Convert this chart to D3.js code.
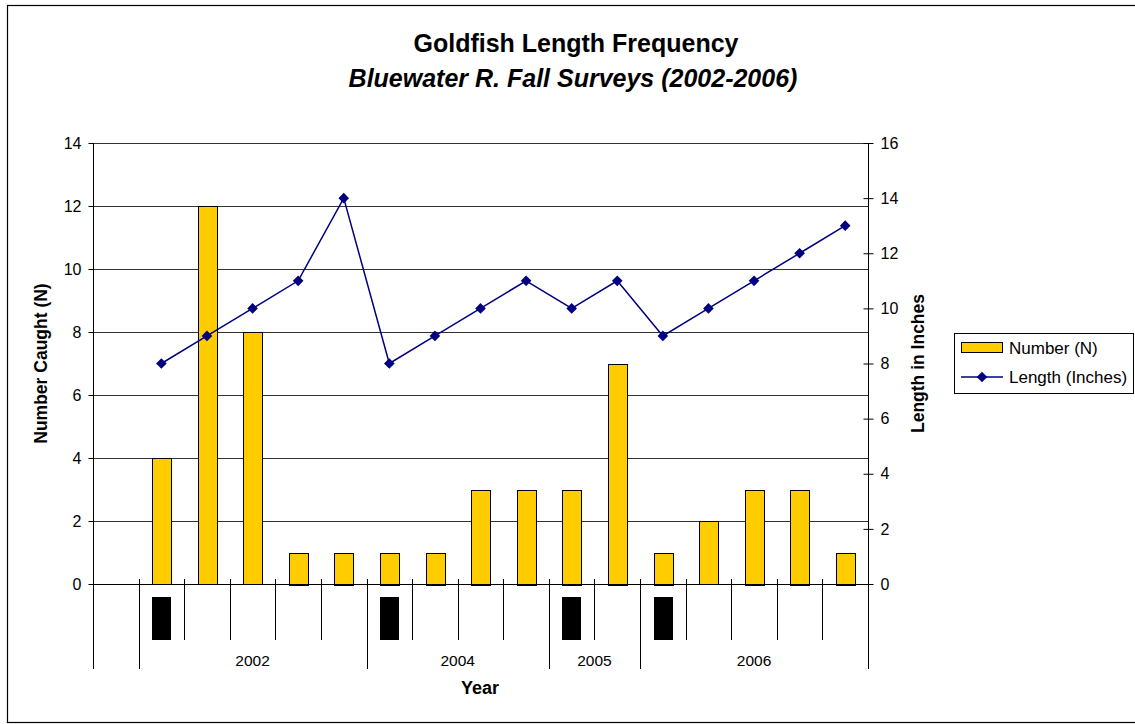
<!DOCTYPE html>
<html><head><meta charset="utf-8">
<script src="https://cdn.jsdelivr.net/npm/d3@7"></script>
<style>body{margin:0;background:#fff}svg{display:block;font-family:"Liberation Sans",Arial,sans-serif}</style>
</head><body>
<svg id="c" width="1135" height="724"></svg>
<script>
// ---- data ----
const categories = ["c0","c1","c2","c3","c4","c5","c6","c7","c8","c9","c10","c11","c12","c13","c14","c15","c16"];
const numberCaught = [null,4,12,8,1,1,1,1,3,3,3,7,1,2,3,3,1];
const lengthInches = [null,8,9,10,11,14,8,9,10,11,10,11,9,10,11,12,13];
const monthMarker = [0,1,0,0,0,0,1,0,0,0,1,0,1,0,0,0,0];
const groupLabels = ["","2002","2004","2005","2006"];
const groupSizes = [1,5,4,2,5];
const leftTicks = [0,2,4,6,8,10,12,14];
const rightTicks = [0,2,4,6,8,10,12,14,16];

const svg = d3.select("#c");
const L=93, R=868, T=143, B=584;

svg.append("rect").attr("x",7.5).attr("y",5.5).attr("width",1140).attr("height",717)
  .attr("fill","#fff").attr("stroke","#000").attr("stroke-width",1.2);

const x = d3.scaleBand().domain(categories).range([L,R]).paddingInner(0.59).paddingOuter(0.295);
const xb = d3.scaleBand().domain(categories).range([L,R]);
const yL = d3.scaleLinear().domain([0,14]).range([B,T]);
const yR = d3.scaleLinear().domain([0,16]).range([B,T]);

// gridlines
svg.append("g").selectAll("line").data(leftTicks.filter(d=>d>0)).join("line")
  .attr("x1",L).attr("x2",R).attr("y1",d=>Math.round(yL(d))+0.5).attr("y2",d=>Math.round(yL(d))+0.5)
  .attr("stroke","#333").attr("stroke-width",1);

// bars
svg.append("g").selectAll("rect").data(categories.map((c,i)=>({c,v:numberCaught[i]})).filter(d=>d.v!=null)).join("rect")
  .attr("x",d=>Math.round(x(d.c))+0.5).attr("width",Math.round(x.bandwidth()))
  .attr("y",d=>Math.round(yL(d.v))+0.5).attr("height",d=>Math.round(B-yL(d.v)))
  .attr("fill","#FFCC00").attr("stroke","#000").attr("stroke-width",1);

// line
const pts = categories.map((c,i)=>({c,v:lengthInches[i]})).filter(d=>d.v!=null);
svg.append("path").datum(pts)
  .attr("d",d3.line().x(d=>xb(d.c)+xb.bandwidth()/2).y(d=>yR(d.v)))
  .attr("fill","none").attr("stroke","#000080").attr("stroke-width",1.5);
svg.append("g").selectAll("path").data(pts).join("path")
  .attr("transform",d=>`translate(${xb(d.c)+xb.bandwidth()/2},${yR(d.v)})`)
  .attr("d",d3.symbol(d3.symbolDiamond2 || d3.symbolDiamond,72))
  .attr("fill","#000080");

// left axis
const gL = svg.append("g").attr("transform",`translate(${L+0.5},0)`)
  .call(d3.axisLeft(yL).tickValues(leftTicks).tickSize(5).tickSizeOuter(0).tickPadding(7));
// right axis
const gR = svg.append("g").attr("transform",`translate(${R+0.5},0)`)
  .call(d3.axisRight(yR).tickValues(rightTicks).tickSize(5).tickSizeOuter(0).tickPadding(7));
[gL,gR].forEach(g=>{
  g.select(".domain").attr("stroke","#000");
  g.selectAll(".tick line").attr("stroke","#000");
  g.selectAll(".tick text").attr("font-size",16).attr("fill","#000").attr("font-family","Liberation Sans, Arial, sans-serif");
});
gR.selectAll(".tick line").attr("x1",-5);
gL.select(".domain").attr("d",`M0,${T}V${B+6}`);
gR.select(".domain").attr("d",`M0,${T}V${B+6}`);

// category axis
svg.append("line").attr("x1",L).attr("x2",R+5).attr("y1",B+0.5).attr("y2",B+0.5).attr("stroke","#000");
const bounds=[0]; groupSizes.forEach(s=>bounds.push(bounds[bounds.length-1]+s));
const boundSet = new Set(bounds);
const bx = i => i<categories.length ? xb(categories[i]) : R;
svg.append("g").selectAll("line").data(d3.range(categories.length+1)).join("line")
  .attr("x1",i=>Math.round(bx(i))+0.5).attr("x2",i=>Math.round(bx(i))+0.5)
  .attr("y1",B-5).attr("y2",i=>boundSet.has(i)?669:640)
  .attr("stroke","#000");
// month markers
svg.append("g").selectAll("rect").data(categories.filter((c,i)=>monthMarker[i])).join("rect")
  .attr("x",d=>Math.round(x(d))).attr("width",Math.round(x.bandwidth()))
  .attr("y",597).attr("height",43).attr("fill","#000");
// group labels
svg.append("g").selectAll("text").data(groupLabels.map((g,i)=>({g,a:bounds[i],b:bounds[i+1]}))).join("text")
  .attr("x",d=>(bx(d.a)+bx(d.b))/2).attr("y",666).attr("text-anchor","middle")
  .attr("font-size",15.5).text(d=>d.g);

// titles
svg.append("text").attr("x",576).attr("y",52).attr("text-anchor","middle")
  .attr("font-size",25).attr("font-weight","bold").text("Goldfish Length Frequency");
svg.append("text").attr("x",573).attr("y",87).attr("text-anchor","middle")
  .attr("font-size",25).attr("font-weight","bold").attr("font-style","italic").text("Bluewater R. Fall Surveys (2002-2006)");
svg.append("text").attr("x",480).attr("y",694).attr("text-anchor","middle")
  .attr("font-size",18).attr("font-weight","bold").text("Year");
svg.append("text").attr("transform",`translate(47,${(T+B)/2}) rotate(-90)`).attr("text-anchor","middle")
  .attr("font-size",17.5).attr("font-weight","bold").text("Number Caught (N)");
svg.append("text").attr("transform",`translate(924,${(T+B)/2}) rotate(-90)`).attr("text-anchor","middle")
  .attr("font-size",17.5).attr("font-weight","bold").text("Length in Inches");

// legend
const lg = svg.append("g");
lg.append("rect").attr("x",954.5).attr("y",333.5).attr("width",179).attr("height",60).attr("fill","#fff").attr("stroke","#000");
lg.append("rect").attr("x",961.5).attr("y",342.5).attr("width",41).attr("height",10).attr("fill","#FFCC00").attr("stroke","#000");
lg.append("text").attr("x",1009).attr("y",354).attr("font-size",17).text("Number (N)");
lg.append("line").attr("x1",961).attr("x2",1003).attr("y1",377).attr("y2",377).attr("stroke","#000080").attr("stroke-width",1.5);
lg.append("path").attr("transform","translate(982,377)").attr("d",d3.symbol(d3.symbolDiamond2 || d3.symbolDiamond,72)).attr("fill","#000080");
lg.append("text").attr("x",1009).attr("y",383).attr("font-size",17).text("Length (Inches)");
</script>
</body></html>
